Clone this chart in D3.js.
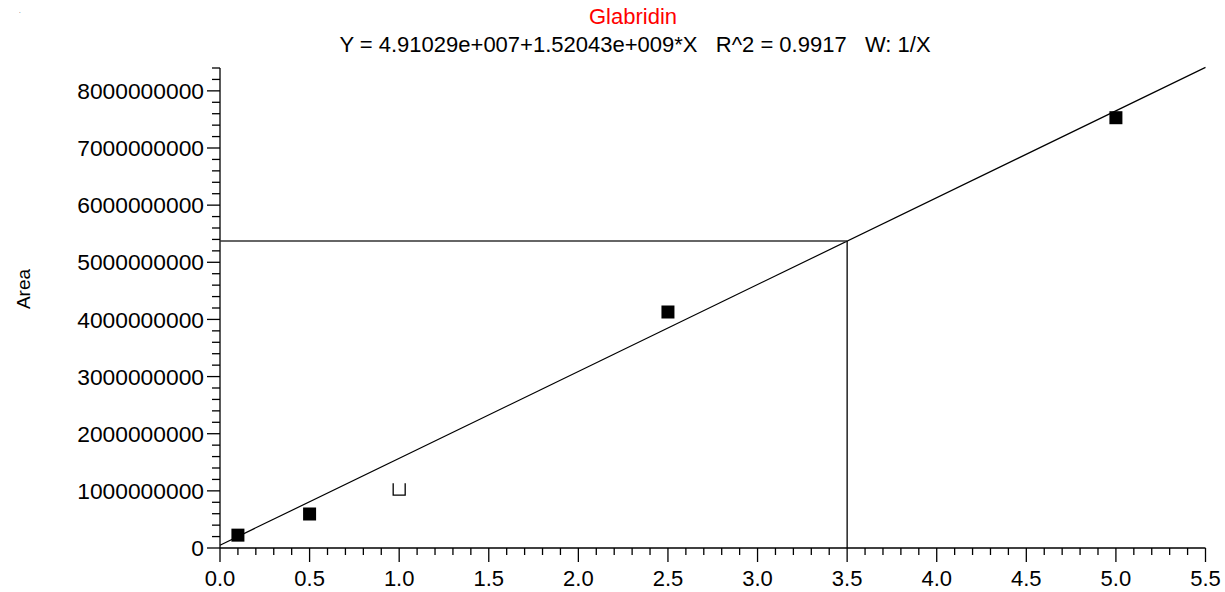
<!DOCTYPE html>
<html>
<head>
<meta charset="utf-8">
<script src="https://cdn.jsdelivr.net/npm/d3@7"></script>
<style>
    body { margin: 0; background: #fff; }
    svg { display: block; font-family: "Liberation Sans", Arial, sans-serif; }
</style>
</head>
<body>
<div id="chart"></div>
<script>
// Dati
const concentrations = [0.1, 0.5, 2.5, 5.0];
const areas = [2.25e8, 5.95e8, 4.13e9, 7.53e9];
const excludedConc = [1.0];
const excludedArea = [1.03e9];
const fitIntercept = 4.91029e7;
const fitSlope = 1.52043e9;
const fitRange = [0, 5.5];
const queryConc = 3.5;
const xLabels = ['0.0', '0.5', '1.0', '1.5', '2.0', '2.5', '3.0', '3.5', '4.0', '4.5', '5.0', '5.5'];
const yLabels = ['0', '1000000000', '2000000000', '3000000000', '4000000000', '5000000000', '6000000000', '7000000000', '8000000000'];
const titleText = 'Glabridin';
const subtitleText = 'Y = 4.91029e+007+1.52043e+009*X   R^2 = 0.9917   W: 1/X';

// Set chart dimensions
const width = 1225;
const height = 592;

const chart = d3.select('#chart')
    .append('svg')
    .attr('width', width)
    .attr('height', height);

const x = d3.scaleLinear()
    .domain([0, 5.5])
    .range([220, 1205.5]);

const y = d3.scaleLinear()
    .domain([0, 8.4e9])
    .range([548, 68]);

// Minor ticks
const xMinor = d3.range(0, 56).map(d => d / 10);
const yMinor = d3.range(0, 43).map(d => d * 2e8);

// X axis
const xAxis = chart.append('g')
    .attr('class', 'x-axis')
    .attr('stroke', 'black')
    .attr('stroke-width', 1.3);

xAxis.append('line')
    .attr('x1', x(0)).attr('x2', x(5.5))
    .attr('y1', y(0)).attr('y2', y(0));

xAxis.selectAll('.minor')
    .data(xMinor)
    .join('line')
    .attr('class', 'minor')
    .attr('x1', d => x(d)).attr('x2', d => x(d))
    .attr('y1', y(0))
    .attr('y2', (d, i) => y(0) + (i % 5 === 0 ? 14 : 7));

chart.append('g')
    .selectAll('text')
    .data(xLabels)
    .join('text')
    .attr('x', d => x(+d))
    .attr('y', 586)
    .attr('text-anchor', 'middle')
    .attr('font-size', 22)
    .text(d => d);

// Y axis
const yAxis = chart.append('g')
    .attr('class', 'y-axis')
    .attr('stroke', 'black')
    .attr('stroke-width', 1.3);

yAxis.append('line')
    .attr('x1', x(0)).attr('x2', x(0))
    .attr('y1', y(0)).attr('y2', y(8.4e9));

yAxis.selectAll('.minor')
    .data(yMinor)
    .join('line')
    .attr('class', 'minor')
    .attr('x1', (d, i) => x(0) - (i % 5 === 0 ? 13 : 8))
    .attr('x2', x(0))
    .attr('y1', d => y(d)).attr('y2', d => y(d));

chart.append('g')
    .selectAll('text')
    .data(yLabels)
    .join('text')
    .attr('x', 204)
    .attr('y', d => y(+d))
    .attr('dy', '0.36em')
    .attr('text-anchor', 'end')
    .attr('font-size', 22.8)
    .text(d => d);

// Y label
chart.append('text')
    .attr('transform', `translate(30,289) rotate(-90)`)
    .attr('text-anchor', 'middle')
    .attr('font-size', 19)
    .text('Area');

// Titles
chart.append('text')
    .attr('x', 633)
    .attr('y', 24)
    .attr('text-anchor', 'middle')
    .attr('font-size', 22)
    .attr('fill', '#ff0000')
    .text(titleText);

chart.append('text')
    .attr('x', 635)
    .attr('y', 52)
    .attr('text-anchor', 'middle')
    .attr('font-size', 22)
    .style('white-space', 'pre')
    .text(subtitleText);

chart.append('text')
    .attr('x', 19)
    .attr('y', 13)
    .attr('font-size', 6)
    .text('.');

// Regression line
const fit = d => fitIntercept + fitSlope * d;
chart.append('line')
    .attr('x1', x(fitRange[0])).attr('y1', y(fit(fitRange[0])))
    .attr('x2', x(fitRange[1])).attr('y2', y(fit(fitRange[1])))
    .attr('stroke', 'black')
    .attr('stroke-width', 1.2);

// Query lines
chart.append('line')
    .attr('x1', x(0)).attr('x2', x(queryConc))
    .attr('y1', y(fit(queryConc))).attr('y2', y(fit(queryConc)))
    .attr('stroke', '#333')
    .attr('stroke-width', 1.5);

chart.append('line')
    .attr('x1', x(queryConc)).attr('x2', x(queryConc))
    .attr('y1', y(fit(queryConc))).attr('y2', y(0))
    .attr('stroke', 'black')
    .attr('stroke-width', 1.3);

// Points
const size = 13;
chart.append('g')
    .selectAll('rect')
    .data(concentrations)
    .join('rect')
    .attr('x', d => x(d) - size / 2)
    .attr('y', (d, i) => y(areas[i]) - size / 2)
    .attr('width', size)
    .attr('height', size)
    .attr('fill', 'black');

// Excluded point (open square without top)
chart.append('g')
    .selectAll('path')
    .data(excludedConc)
    .join('path')
    .attr('d', (d, i) => {
        const cx = x(d), cy = y(excludedArea[i]);
        return `M${cx - 6},${cy - 6}V${cy + 6}H${cx + 6}V${cy - 6}`;
    })
    .attr('fill', 'none')
    .attr('stroke', 'black')
    .attr('stroke-width', 1.3);
</script>
</body>
</html>
